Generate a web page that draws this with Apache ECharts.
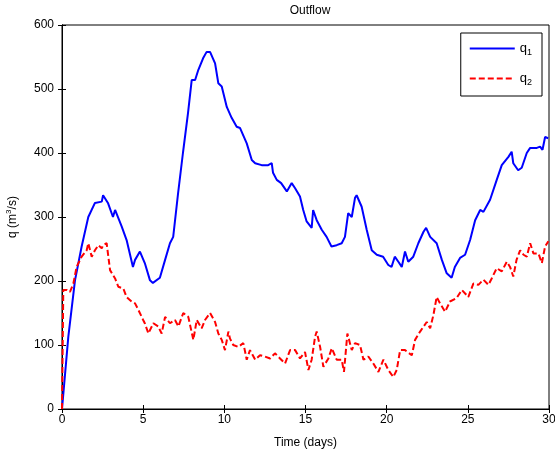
<!DOCTYPE html>
<html><head><meta charset="utf-8">
<script src="https://cdn.jsdelivr.net/npm/echarts@6/dist/echarts.min.js"></script>
<style>html,body{margin:0;padding:0;background:#fff}#c{width:555px;height:455px}</style>
</head><body><div id="c"></div>
<script>
const xTicks = [0, 5, 10, 15, 20, 25, 30];
const yTicks = [0, 100, 200, 300, 400, 500, 600];
const q1Days = [0,0.39,0.8,1.21,1.62,2.03,2.45,2.53,2.83,3.14,3.27,3.68,3.98,4.37,4.5,4.8,5.1,5.42,5.6,6.03,6.35,6.65,6.85,7.15,7.45,7.76,7.99,8.2,8.4,8.69,8.91,9.12,9.43,9.63,9.84,10.15,10.45,10.76,10.97,11.38,11.69,11.9,12.3,12.7,12.92,13.0,13.23,13.5,13.85,14.15,14.36,14.66,14.86,15.07,15.38,15.47,15.69,16.0,16.3,16.6,16.92,17.23,17.43,17.63,17.85,18.05,18.15,18.46,18.77,19.08,19.39,19.78,20.1,20.3,20.5,20.72,20.93,21.13,21.33,21.64,21.95,22.27,22.43,22.68,23.08,23.4,23.7,24.0,24.2,24.52,24.83,25.14,25.45,25.76,25.96,26.37,26.78,27.09,27.5,27.7,27.8,28.1,28.32,28.63,28.84,29.25,29.45,29.6,29.76,29.95];
const q1Values = [0,113,201,254,300,322,324,334,322,300,311,285,264,222,233,246,228,201,197,205,233,259,269,337,400,462,514,514,530,548,558,558,540,509,504,472,455,441,439,415,389,384,381,381,384,369,358,353,340,353,345,332,311,293,283,311,295,280,269,254,256,259,269,306,300,330,334,316,280,248,241,238,225,222,238,230,222,246,230,238,259,277,283,269,259,233,212,205,222,236,241,264,295,311,308,327,358,381,394,402,384,373,377,400,408,408,410,405,425,423];
const q2Days = [0,0.08,0.29,0.49,0.7,0.9,1.0,1.21,1.31,1.52,1.62,1.83,2.03,2.24,2.45,2.53,2.75,2.96,3.27,3.47,3.57,3.78,3.98,4.08,4.29,4.5,4.7,4.91,5.0,5.1,5.32,5.42,5.63,5.73,5.93,6.04,6.14,6.35,6.45,6.65,6.96,7.17,7.27,7.47,7.58,7.78,7.89,8.09,8.3,8.4,8.6,8.81,9.12,9.43,9.63,9.84,10.04,10.25,10.35,10.55,10.86,11.17,11.38,11.58,11.9,12.2,12.5,12.82,13.12,13.43,13.74,14.05,14.36,14.66,14.97,15.18,15.38,15.59,15.69,15.9,16.1,16.41,16.62,16.72,16.92,17.23,17.37,17.58,17.85,18.05,18.36,18.57,18.87,19.18,19.49,19.8,20.1,20.41,20.62,20.83,21.13,21.55,21.75,22.06,22.47,22.68,22.88,23.08,23.29,23.6,23.9,24.3,24.63,25.03,25.34,25.65,25.96,26.27,26.47,26.78,27.09,27.4,27.6,27.8,28.0,28.22,28.43,28.63,28.84,29.04,29.35,29.56,29.76,29.96];
const q2Values = [0,186,186,183,196,222,222,238,238,248,259,238,248,256,251,256,259,217,204,191,194,188,175,173,168,165,155,144,139,134,118,116,134,134,129,123,118,144,144,134,139,129,129,150,150,144,144,108,139,136,126,139,150,136,118,108,92,121,110,100,97,103,77,92,77,84,82,79,87,79,71,92,92,79,89,61,77,113,121,97,66,79,95,95,77,77,58,118,92,103,100,77,82,71,58,77,61,50,61,92,92,84,108,121,136,126,147,175,165,152,168,173,186,175,196,194,202,194,204,220,215,230,222,207,233,248,241,238,259,243,243,228,254,262];

const zip = (a, b) => a.map((v, i) => [v, b[i]]);
const font = 'Liberation Sans, Arial, sans-serif';
const chart = echarts.init(document.getElementById('c'));
const tickStyle = {show: true, inside: true, length: 4, lineStyle: {color: '#000', width: 1}};
chart.setOption({
  animation: false,
  backgroundColor: '#fff',
  textStyle: {fontFamily: font, color: '#000'},
  title: {text: 'Outflow', left: 305, textAlign: 'center', top: 0,
    textStyle: {fontSize: 12, fontWeight: 'normal', color: '#000', fontFamily: font}},
  grid: {left: 62, right: 6, top: 25, bottom: 46, show: true, borderColor: '#000', borderWidth: 1,
    containLabel: false, outerBoundsMode: 'none'},
  legend: {
    right: 13, top: 33, orient: 'vertical', itemWidth: 45, itemHeight: 14, itemGap: 15,
    padding: [9, 10, 9, 8],
    backgroundColor: '#fff', borderColor: '#000', borderWidth: 1,
    itemStyle: {opacity: 0},
    data: ['q1', 'q2'],
    formatter: n => n === 'q1' ? 'q{sub|1}' : 'q{sub|2}',
    textStyle: {fontSize: 13, color: '#000', fontFamily: font,
      rich: {sub: {fontSize: 9, padding: [8, 0, 0, 0], color: '#000', fontFamily: font}}}
  },
  xAxis: [{
    type: 'value', min: 0, max: 30, interval: 5,
    name: 'Time (days)', nameLocation: 'middle', nameGap: 28,
    nameTextStyle: {fontSize: 12, color: '#000', fontFamily: font},
    axisLine: {show: true, onZero: false, lineStyle: {color: '#000', width: 1}},
    axisTick: tickStyle,
    axisLabel: {fontSize: 12, color: '#000', fontFamily: font, margin: 5, formatter: v => xTicks.includes(v) ? String(v) : ''},
    splitLine: {show: false}
  }, {
    type: 'value', min: 0, max: 30, interval: 5, position: 'top',
    axisLine: {show: true, lineStyle: {color: '#000'}}, axisTick: tickStyle,
    axisLabel: {show: false}, splitLine: {show: false}
  }],
  yAxis: [{
    type: 'value', min: 0, max: 600, interval: 100,
    name: 'q (m{sup|3}/s)', nameLocation: 'middle', nameGap: 42,
    nameTextStyle: {fontSize: 12, color: '#000', fontFamily: font,
      rich: {sup: {fontSize: 8, padding: [0, 0, 7, 0], color: '#000', fontFamily: font}}},
    axisLine: {show: true, onZero: false, lineStyle: {color: '#000', width: 1}},
    axisTick: tickStyle,
    axisLabel: {fontSize: 12, color: '#000', fontFamily: font, margin: 8, formatter: v => yTicks.includes(v) ? String(v) : ''},
    splitLine: {show: false}
  }, {
    type: 'value', min: 0, max: 600, interval: 100, position: 'right',
    axisLine: {show: true, lineStyle: {color: '#000'}}, axisTick: tickStyle,
    axisLabel: {show: false}, splitLine: {show: false}
  }],
  series: [{
    name: 'q1', type: 'line', data: zip(q1Days, q1Values), symbol: 'none',
    lineStyle: {color: '#0000ff', width: 2}, itemStyle: {color: '#0000ff'}, z: 2
  }, {
    name: 'q2', type: 'line', data: zip(q2Days, q2Values), symbol: 'none',
    lineStyle: {color: '#ff0000', width: 2, type: [6, 3]}, itemStyle: {color: '#ff0000'}, z: 3
  }]
});
</script></body></html>
